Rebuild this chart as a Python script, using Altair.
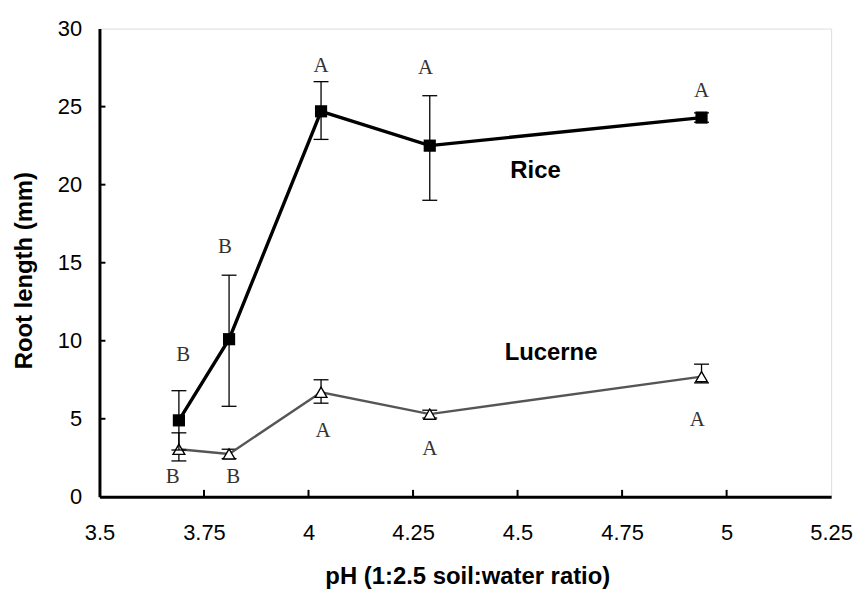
import altair as alt
import pandas as pd

ph = [3.69, 3.81, 4.03, 4.29, 4.94]
rice = [4.9, 10.1, 24.7, 22.5, 24.3]
rice_lo = [3.0, 5.8, 22.9, 19.0, 24.0]
rice_hi = [6.8, 14.2, 26.6, 25.7, 24.6]
lucerne = [3.05, 2.75, 6.7, 5.3, 7.7]
luc_lo = [2.3, 2.45, 6.0, 5.05, 7.3]
luc_hi = [4.1, 3.05, 7.5, 5.55, 8.5]

rice_letters = ["B", "B", "A", "A", "A"]
rice_letter_x = [3.70, 3.80, 4.03, 4.28, 4.94]
rice_letter_y = [9.1, 16.0, 27.6, 27.5, 26.0]
luc_letters = ["B", "B", "A", "A", "A"]
luc_letter_x = [3.675, 3.82, 4.035, 4.29, 4.93]
luc_letter_y = [1.3, 1.3, 4.2, 3.05, 4.9]

series_labels = ["Rice", "Lucerne"]
series_label_x = [4.543, 4.58]
series_label_y = [20.9, 9.2]

x_ticks = [3.5, 3.75, 4, 4.25, 4.5, 4.75, 5, 5.25]
y_ticks = [0, 5, 10, 15, 20, 25, 30]

W, H = 736, 471
SANS = "Liberation Sans, Arial, sans-serif"
LETTER_FONT = "Liberation Serif, Times New Roman, serif"

rice_df = pd.DataFrame({"ph": ph, "v": rice, "lo": rice_lo, "hi": rice_hi})
luc_df = pd.DataFrame({"ph": ph, "v": lucerne, "lo": luc_lo, "hi": luc_hi})
rl_df = pd.DataFrame({"ph": rice_letter_x, "v": rice_letter_y, "t": rice_letters})
ll_df = pd.DataFrame({"ph": luc_letter_x, "v": luc_letter_y, "t": luc_letters})
sl_df = pd.DataFrame({"ph": series_label_x, "v": series_label_y, "t": series_labels})
xt_df = pd.DataFrame({"ph": x_ticks[1:-1]})
yt_df = pd.DataFrame({"v": y_ticks[1:-1]})

xs = alt.Scale(domain=[3.5, 5.25], nice=False, zero=False)
ys = alt.Scale(domain=[0, 30], nice=False)

X = alt.X("ph:Q", scale=xs, axis=alt.Axis(
    values=x_ticks, labelExpr="datum.value", title="pH (1:2.5 soil:water ratio)",
    domainColor="black", domainWidth=3, ticks=False, grid=False,
    labelFont=SANS, labelFontSize=22, labelColor="black", labelPadding=26,
    labelFlush=False, labelOverlap=False,
    titleFont=SANS, titleFontSize=24, titleFontWeight="bold", titleColor="black",
    titleBaseline="alphabetic", titleX=370, titleY=87))
Y = alt.Y("v:Q", scale=ys, axis=alt.Axis(
    values=y_ticks, title="Root length (mm)",
    domainColor="black", domainWidth=3, ticks=False, grid=False,
    labelFont=SANS, labelFontSize=22, labelColor="black", labelPadding=18,
    labelFlush=False, labelOverlap=False,
    titleFont=SANS, titleFontSize=24, titleFontWeight="bold", titleColor="black",
    titleBaseline="alphabetic", titleX=-68, titleY=243))

base_axes = alt.Chart(rice_df).mark_point(opacity=0).encode(x=X, y=Y)

xtick_marks = alt.Chart(xt_df).mark_rule(color="black", strokeWidth=2).encode(
    x=alt.X("ph:Q", scale=xs), y=alt.value(H), y2=alt.value(H - 7))
ytick_marks = alt.Chart(yt_df).mark_rule(color="black", strokeWidth=2).encode(
    y=alt.Y("v:Q", scale=ys), x=alt.value(0), x2=alt.value(6))

def err_layers(df, color):
    bar = alt.Chart(df).mark_rule(color=color, strokeWidth=1.3).encode(
        x=alt.X("ph:Q", scale=xs), y=alt.Y("lo:Q", scale=ys), y2="hi:Q")
    cap_lo = alt.Chart(df).mark_tick(orient="horizontal", size=15, thickness=1.3, color=color, opacity=1).encode(
        x=alt.X("ph:Q", scale=xs), y=alt.Y("lo:Q", scale=ys))
    cap_hi = alt.Chart(df).mark_tick(orient="horizontal", size=15, thickness=1.3, color=color, opacity=1).encode(
        x=alt.X("ph:Q", scale=xs), y=alt.Y("hi:Q", scale=ys))
    return bar + cap_lo + cap_hi

luc_line = alt.Chart(luc_df).mark_line(color="#555555", strokeWidth=2.4).encode(
    x=alt.X("ph:Q", scale=xs), y=alt.Y("v:Q", scale=ys))
luc_pts = alt.Chart(luc_df).mark_point(shape="triangle-up", filled=True, fill="white",
                                        stroke="black", strokeWidth=1.4, size=140, opacity=1).encode(
    x=alt.X("ph:Q", scale=xs), y=alt.Y("v:Q", scale=ys))
rice_line = alt.Chart(rice_df).mark_line(color="black", strokeWidth=3.4).encode(
    x=alt.X("ph:Q", scale=xs), y=alt.Y("v:Q", scale=ys))
rice_pts = alt.Chart(rice_df).mark_point(shape="square", filled=True, color="black",
                                         size=150, opacity=1).encode(
    x=alt.X("ph:Q", scale=xs), y=alt.Y("v:Q", scale=ys))

letters_r = alt.Chart(rl_df).mark_text(font=LETTER_FONT, fontSize=21, color="#333").encode(
    x=alt.X("ph:Q", scale=xs), y=alt.Y("v:Q", scale=ys), text="t:N")
letters_l = alt.Chart(ll_df).mark_text(font=LETTER_FONT, fontSize=21, color="#333").encode(
    x=alt.X("ph:Q", scale=xs), y=alt.Y("v:Q", scale=ys), text="t:N")
slabels = alt.Chart(sl_df).mark_text(font=SANS, fontSize=24, fontWeight="bold", color="black").encode(
    x=alt.X("ph:Q", scale=xs), y=alt.Y("v:Q", scale=ys), text="t:N")

chart = alt.layer(
    base_axes, xtick_marks, ytick_marks,
    err_layers(luc_df, "black"), luc_line, luc_pts,
    err_layers(rice_df, "black"), rice_line, rice_pts,
    letters_r, letters_l, slabels,
).properties(
    width=W, height=H,
    autosize=alt.AutoSizeParams(type="none"),
    padding={"left": 92, "top": 19, "right": 24, "bottom": 92},
).configure_view(stroke="#333333", strokeWidth=1.2).configure(background="white")

chart.save("out.html", embed_options={"renderer": "svg", "actions": False})
